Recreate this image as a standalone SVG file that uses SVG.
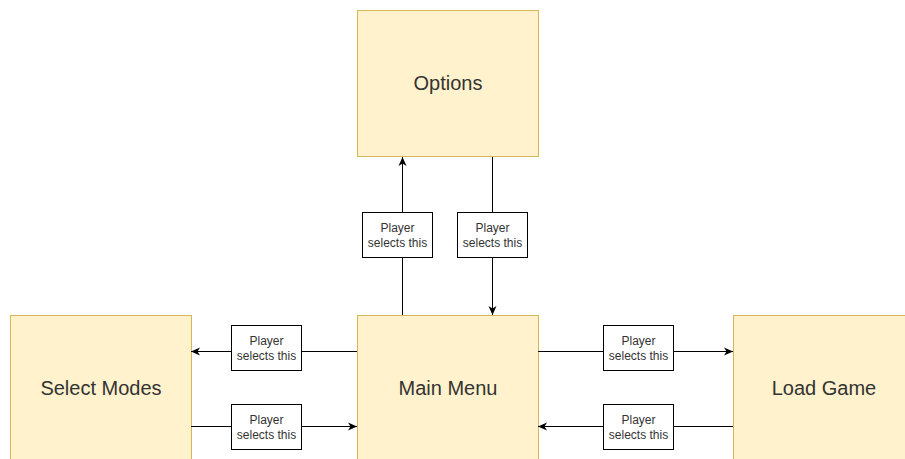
<svg xmlns="http://www.w3.org/2000/svg" width="905" height="459" viewBox="0 0 905 459">
<style>
.node{fill:#fff2cc;stroke:#d6b656;stroke-width:1}
.nt{font-family:"Liberation Sans",Arial,sans-serif;font-size:20px;fill:#333;text-anchor:middle;dominant-baseline:central}
.lb{fill:#fff;stroke:#000;stroke-width:1}
.lt{font-family:"Liberation Sans",Arial,sans-serif;font-size:12px;fill:#333;text-anchor:middle}
.edge{stroke:#000;stroke-width:1;fill:none;marker-end:url(#arr)}
</style>
<defs>
<marker id="arr" viewBox="0 0 10 10" refX="9" refY="5" markerWidth="10" markerHeight="10" markerUnits="userSpaceOnUse" orient="auto">
<path d="M0,1 L9,5 L0,9 L2.5,5 Z" fill="#000"/>
</marker>
</defs>
<rect width="905" height="459" fill="#fff"/>
<g id="options"><rect class="node" x="357.5" y="10.5" width="181" height="146"/><text class="nt" x="448" y="83">Options</text></g>
<g id="main-menu"><rect class="node" x="357.5" y="315.5" width="181" height="146"/><text class="nt" x="448" y="388">Main Menu</text></g>
<g id="select-modes"><rect class="node" x="10.5" y="315.5" width="181" height="146"/><text class="nt" x="101" y="388">Select Modes</text></g>
<g id="load-game"><rect class="node" x="733.5" y="315.5" width="181" height="146"/><text class="nt" x="824" y="388">Load Game</text></g>
<g id="connectors">
<path class="edge" d="M402.5,315 V157"/>
<path class="edge" d="M492.5,157 V315"/>
<path class="edge" d="M357,351.5 H191"/>
<path class="edge" d="M191,426.5 H357"/>
<path class="edge" d="M538,351.5 H733"/>
<path class="edge" d="M733,426.5 H538"/>
<g id="lbl1"><rect class="lb" x="362.5" y="212.5" width="70" height="45"/><text class="lt" x="397.5" y="232">Player</text><text class="lt" x="397.5" y="247">selects this</text></g>
<g id="lbl2"><rect class="lb" x="457.5" y="212.5" width="70" height="45"/><text class="lt" x="492.5" y="232">Player</text><text class="lt" x="492.5" y="247">selects this</text></g>
<g id="lbl3"><rect class="lb" x="231.5" y="325.5" width="70" height="45"/><text class="lt" x="266.5" y="345">Player</text><text class="lt" x="266.5" y="360">selects this</text></g>
<g id="lbl4"><rect class="lb" x="231.5" y="404.5" width="70" height="45"/><text class="lt" x="266.5" y="424">Player</text><text class="lt" x="266.5" y="439">selects this</text></g>
<g id="lbl5"><rect class="lb" x="603.5" y="325.5" width="70" height="45"/><text class="lt" x="638.5" y="345">Player</text><text class="lt" x="638.5" y="360">selects this</text></g>
<g id="lbl6"><rect class="lb" x="603.5" y="404.5" width="70" height="45"/><text class="lt" x="638.5" y="424">Player</text><text class="lt" x="638.5" y="439">selects this</text></g>
</g>
</svg>
